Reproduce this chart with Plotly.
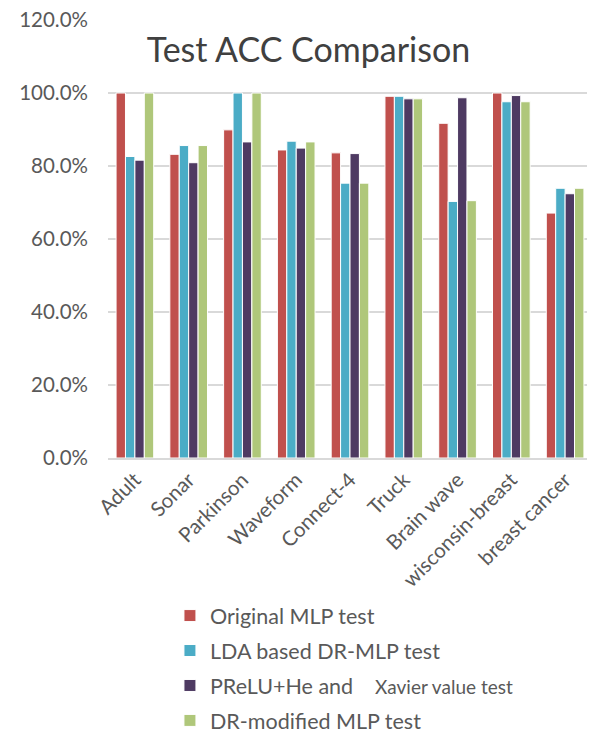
import plotly.graph_objects as go

categories = ["Adult", "Sonar", "Parkinson", "Waveform", "Connect-4", "Truck",
              "Brain wave", "wisconsin-breast", "breast cancer"]
original_mlp = [1.000, 0.832, 0.899, 0.844, 0.836, 0.991, 0.917, 1.000, 0.671]
lda_dr_mlp   = [0.826, 0.856, 1.000, 0.868, 0.753, 0.991, 0.703, 0.976, 0.739]
prelu_he     = [0.816, 0.809, 0.866, 0.849, 0.834, 0.984, 0.987, 0.993, 0.724]
dr_modified  = [1.000, 0.856, 1.000, 0.866, 0.753, 0.984, 0.705, 0.976, 0.739]

series = [
    ("Original MLP test", original_mlp, "#C0504D"),
    ("LDA based DR-MLP test", lda_dr_mlp, "#4BACC6"),
    ("PReLU+He and&nbsp;&nbsp;&nbsp;&nbsp;<span style='font-size:19px'>Xavier value test</span>", prelu_he, "#4E3A62"),
    ("DR-modified MLP test", dr_modified, "#AFC77A"),
]

FONT = "Lato"
TXT = "#595959"

fig = go.Figure()
for i, (name, vals, col) in enumerate(series):
    fig.add_trace(go.Bar(
        x=categories, y=vals, name=name, legendgroup=f"g{i}",
        marker=dict(color=col, line=dict(color="white", width=1)),
    ))

PLOT_H = 735 - 12 - 285

fig.update_layout(
    width=595, height=735,
    margin=dict(l=100, r=11, t=12, b=285, autoexpand=False),
    paper_bgcolor="white", plot_bgcolor="white",
    barmode="group", bargap=0.3, bargroupgap=0.0,
    font=dict(family=FONT, color=TXT, size=20.5),
    title=dict(text="Test ACC Comparison", x=0.505, xanchor="center",
               y=0.943, yanchor="middle",
               font=dict(family=FONT, size=34, color="#404040")),
    showlegend=True,
    legend=dict(orientation="v", x=0.128, xanchor="left", y=-0.313, yanchor="top",
                tracegroupgap=4, font=dict(size=21.5, color=TXT),
                bgcolor="rgba(0,0,0,0)"),
    xaxis=dict(tickangle=-45, showline=True, linecolor="#d9d9d9", linewidth=1.5,
               ticks="", automargin=False, tickfont=dict(size=20.5, color=TXT)),
    yaxis=dict(range=[0, 1.2], dtick=0.2, tickformat=".1%", showgrid=True,
               gridcolor="#d9d9d9", gridwidth=1.5, zeroline=False, automargin=False,
               ticklabeloverflow="allow",
               ticks="", ticklabelstandoff=19, tickfont=dict(size=20.5, color=TXT)),
)

fig.write_html("out.html")
